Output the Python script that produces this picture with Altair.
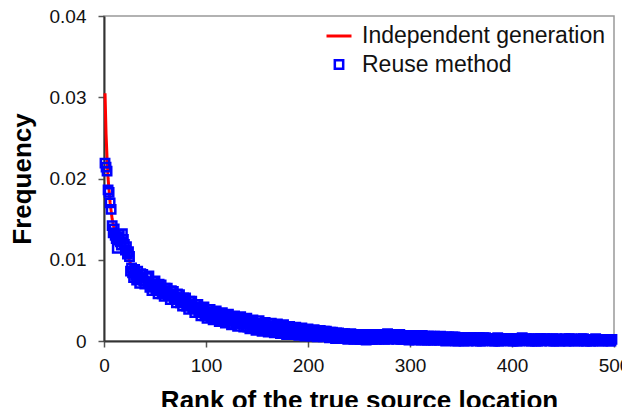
import altair as alt
import pandas as pd

FONT = "Liberation Sans"

# Independent generation (red line): rank -> frequency
red_rank = [1, 2, 3, 4, 5, 6, 8, 10, 13, 16, 20, 23, 26, 28, 32, 40, 50, 60, 80,
            100, 130, 160, 200, 250, 300, 400, 500]
red_freq = [0.0305, 0.0255, 0.0225, 0.0200, 0.0185, 0.0170, 0.0150, 0.0138, 0.0125,
            0.0118, 0.0112, 0.0106, 0.0095, 0.0086, 0.0080, 0.0073, 0.0066, 0.0061,
            0.0048, 0.0035, 0.0025, 0.0018, 0.0011, 0.0006, 0.0004, 0.0002, 0.0001]

# Reuse method (blue squares)
blue_rank_early = list(range(1, 41))
blue_freq_early = [0.0219, 0.0214, 0.0209, 0.0186, 0.0183, 0.0170, 0.0162, 0.0142,
                   0.0133, 0.0138, 0.0130, 0.0126, 0.0114, 0.0128, 0.0131, 0.0122,
                   0.0118, 0.0132, 0.0125, 0.0119, 0.0112, 0.0116, 0.0107, 0.0110,
                   0.0104, 0.0086, 0.0090, 0.0084, 0.0078, 0.0088, 0.0081, 0.0075,
                   0.0086, 0.0079, 0.0071, 0.0083, 0.0077, 0.0082, 0.0074, 0.0070]

blue_rank_a = list(range(42, 499, 3))
blue_freq_a = [
    0.0078, 0.0066, 0.0073, 0.0064, 0.0070, 0.0058, 0.0065, 0.0056, 0.0062, 0.0052,
    0.0058, 0.0047, 0.0053, 0.0043, 0.0049, 0.0040, 0.0045, 0.0036, 0.0041, 0.0031,
    0.0039, 0.0030, 0.0036, 0.0028, 0.0034, 0.0026, 0.0032, 0.0025, 0.0030, 0.0022,
    0.0028, 0.0021, 0.0026, 0.0017, 0.0024, 0.0017, 0.0022, 0.0015, 0.0021, 0.0014,
    0.0019, 0.0013, 0.0019, 0.0012, 0.0018, 0.0011, 0.0017, 0.0010, 0.0016, 0.0009,
    0.0015, 0.0009, 0.0014, 0.0008, 0.0013, 0.0007, 0.0013, 0.0006, 0.0012, 0.0006,
    0.0011, 0.0005, 0.0010, 0.0004, 0.0009, 0.0004, 0.0008, 0.0003, 0.0008, 0.0002,
    0.0007, 0.0002, 0.0007, 0.0002, 0.0008, 0.0002, 0.0007, 0.0003, 0.0008, 0.0002,
    0.0008, 0.0003, 0.0008, 0.0002, 0.0007, 0.0002, 0.0007, 0.0002, 0.0007, 0.0002,
    0.0007, 0.0001, 0.0006, 0.0001, 0.0006, 0.0001, 0.0006, 0.0001, 0.0005, 0.0001,
    0.0005, 0.0000, 0.0004, 0.0001, 0.0004, 0.0000, 0.0004, 0.0001, 0.0004, 0.0000,
    0.0004, 0.0001, 0.0003, 0.0000, 0.0003, 0.0000, 0.0003, 0.0001, 0.0003, 0.0000,
    0.0003, 0.0000, 0.0003, 0.0001, 0.0003, 0.0000, 0.0002, 0.0000, 0.0003, 0.0000,
    0.0003, 0.0001, 0.0002, 0.0000, 0.0003, 0.0000, 0.0002, 0.0000, 0.0003, 0.0001,
    0.0002, 0.0000, 0.0003, 0.0000, 0.0002, 0.0000, 0.0002, 0.0001, 0.0002, 0.0000,
    0.0002, 0.0000, 0.0002]

blue_rank_b = list(range(44, 498, 3))
blue_freq_b = [
    0.0080, 0.0062, 0.0074, 0.0058, 0.0069, 0.0055, 0.0065, 0.0051, 0.0061, 0.0047,
    0.0057, 0.0043, 0.0053, 0.0039, 0.0049, 0.0035, 0.0045, 0.0031, 0.0042, 0.0028,
    0.0039, 0.0026, 0.0037, 0.0024, 0.0035, 0.0022, 0.0033, 0.0020, 0.0031, 0.0018,
    0.0030, 0.0017, 0.0028, 0.0015, 0.0026, 0.0013, 0.0025, 0.0012, 0.0023, 0.0011,
    0.0022, 0.0010, 0.0021, 0.0009, 0.0020, 0.0008, 0.0018, 0.0008, 0.0017, 0.0007,
    0.0016, 0.0006, 0.0015, 0.0006, 0.0014, 0.0005, 0.0013, 0.0005, 0.0012, 0.0004,
    0.0011, 0.0003, 0.0010, 0.0003, 0.0009, 0.0002, 0.0009, 0.0002, 0.0008, 0.0002,
    0.0008, 0.0001, 0.0007, 0.0002, 0.0008, 0.0002, 0.0008, 0.0002, 0.0009, 0.0003,
    0.0008, 0.0002, 0.0008, 0.0002, 0.0007, 0.0001, 0.0007, 0.0001, 0.0006, 0.0001,
    0.0006, 0.0001, 0.0006, 0.0001, 0.0005, 0.0001, 0.0005, 0.0000, 0.0005, 0.0001,
    0.0005, 0.0000, 0.0004, 0.0000, 0.0004, 0.0001, 0.0004, 0.0000, 0.0004, 0.0000,
    0.0004, 0.0001, 0.0003, 0.0000, 0.0004, 0.0000, 0.0003, 0.0001, 0.0003, 0.0000,
    0.0003, 0.0000, 0.0004, 0.0001, 0.0003, 0.0000, 0.0003, 0.0000, 0.0003, 0.0001,
    0.0003, 0.0000, 0.0003, 0.0000, 0.0002, 0.0001, 0.0003, 0.0000, 0.0003, 0.0000,
    0.0002, 0.0001, 0.0003, 0.0000, 0.0002, 0.0000, 0.0003, 0.0000, 0.0002, 0.0001,
    0.0002, 0.0000]

blue_rank_c = list(range(43, 497, 3))
blue_freq_c = [
    0.0072, 0.0070, 0.0068, 0.0066, 0.0064, 0.0062, 0.0060, 0.0058, 0.0056, 0.0054,
    0.0052, 0.0050, 0.0048, 0.0046, 0.0044, 0.0042, 0.0040, 0.0038, 0.0036, 0.0035,
    0.0034, 0.0033, 0.0032, 0.0031, 0.0030, 0.0029, 0.0028, 0.0027, 0.0026, 0.0025,
    0.0024, 0.0023, 0.0022, 0.0021, 0.0020, 0.0020, 0.0019, 0.0018, 0.0018, 0.0017,
    0.0016, 0.0016, 0.0015, 0.0015, 0.0014, 0.0014, 0.0013, 0.0013, 0.0012, 0.0012,
    0.0011, 0.0011, 0.0010, 0.0010, 0.0010, 0.0009, 0.0009, 0.0009, 0.0008, 0.0008,
    0.0007, 0.0007, 0.0007, 0.0006, 0.0006, 0.0006, 0.0005, 0.0005, 0.0005, 0.0005,
    0.0005, 0.0004, 0.0005, 0.0005, 0.0005, 0.0005, 0.0005, 0.0005, 0.0005, 0.0005,
    0.0005, 0.0005, 0.0005, 0.0004, 0.0004, 0.0004, 0.0004, 0.0004, 0.0004, 0.0004,
    0.0004, 0.0003, 0.0003, 0.0003, 0.0003, 0.0003, 0.0003, 0.0003, 0.0003, 0.0003,
    0.0003, 0.0002, 0.0002, 0.0002, 0.0002, 0.0002, 0.0002, 0.0002, 0.0002, 0.0002,
    0.0002, 0.0002, 0.0002, 0.0002, 0.0002, 0.0002, 0.0002, 0.0002, 0.0002, 0.0002,
    0.0001, 0.0002, 0.0001, 0.0002, 0.0001, 0.0001, 0.0002, 0.0001, 0.0001, 0.0002,
    0.0001, 0.0001, 0.0001, 0.0002, 0.0001, 0.0001, 0.0001, 0.0001, 0.0002, 0.0001,
    0.0001, 0.0001, 0.0001, 0.0001, 0.0002, 0.0001, 0.0001, 0.0001, 0.0001, 0.0001,
    0.0001, 0.0001]

series_names = ["Independent generation", "Reuse method"]
series_colors = ["#ff0000", "#0000ff"]
x_ticks = [0, 100, 200, 300, 400, 500]
y_ticks = [0, 0.01, 0.02, 0.03, 0.04]

red_df = pd.DataFrame({"rank": red_rank, "freq": red_freq})
blue_pairs = (list(zip(blue_rank_early, blue_freq_early))
              + list(zip(blue_rank_a, blue_freq_a))
              + list(zip(blue_rank_b, blue_freq_b))
              + list(zip(blue_rank_c, blue_freq_c)))
blue_df = pd.DataFrame(blue_pairs, columns=["rank", "freq"])
blue_df["series"] = "Reuse method"

x_enc = alt.X("rank:Q",
              scale=alt.Scale(domain=[0, 500], nice=False),
              axis=alt.Axis(values=x_ticks, title="Rank of the true source location",
                            labelFontSize=19, titleFontSize=26, titleFontWeight="bold",
                            labelPadding=9, titlePadding=12, tickSize=6,
                            labelFlush=False))
y_enc = alt.Y("freq:Q",
              scale=alt.Scale(domain=[0, 0.04], nice=False),
              axis=alt.Axis(values=y_ticks, format="~g", title="Frequency",
                            labelFontSize=19, titleFontSize=26, titleFontWeight="bold",
                            labelPadding=12, titlePadding=14, tickSize=6))

leg = alt.Legend(orient="none", legendX=221, legendY=6, title=None,
                 labelFontSize=23, labelFont=FONT, labelColor="#111", labelLimit=400,
                 labelOffset=9, rowPadding=5, padding=0, symbolOpacity=1)

line = alt.Chart(red_df).mark_line(color="#ff0000", strokeWidth=3).encode(x=x_enc, y=y_enc)

points = alt.Chart(blue_df).mark_point(filled=False, opacity=1).encode(
    x=x_enc, y=y_enc,
    color=alt.Color("series:N", scale=alt.Scale(domain=series_names, range=series_colors), legend=leg),
    shape=alt.Shape("series:N", scale=alt.Scale(domain=series_names, range=["stroke", "square"]), legend=leg),
    size=alt.Size("series:N", scale=alt.Scale(domain=series_names, range=[625, 70]), legend=leg),
    strokeWidth=alt.StrokeWidth("series:N", scale=alt.Scale(domain=series_names, range=[3, 2.5]), legend=leg),
)

chart = alt.layer(line, points).properties(
    width=510, height=325,
    autosize=alt.AutoSizeParams(type="none"),
    padding={"left": 96, "top": 8, "right": 8, "bottom": 66},
).configure_view(
    stroke="#999999", strokeWidth=1.5
).configure_axis(
    labelFont=FONT, titleFont=FONT, labelColor="#111", titleColor="#000",
    domainColor="#333", domainWidth=2, tickColor="#555", tickWidth=1.5, grid=False,
)

chart.save("out.html", embed_options={"renderer": "svg", "actions": False})
